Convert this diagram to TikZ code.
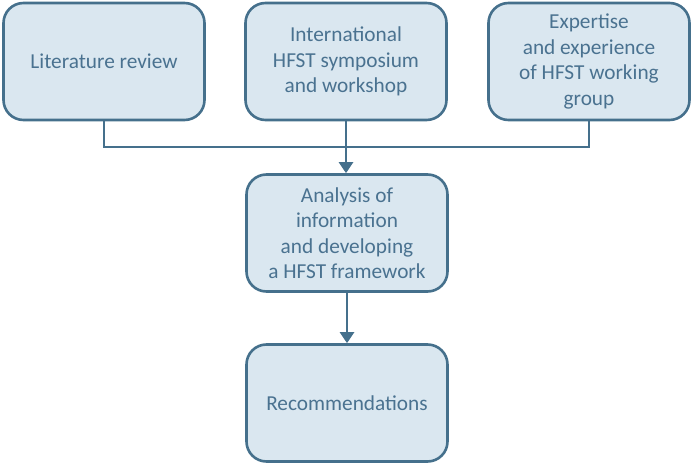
\documentclass[tikz,border=0pt]{standalone}
\usepackage{fontspec}
\setmainfont{Carlito}
\usetikzlibrary{arrows.meta,positioning}
\definecolor{boxfill}{HTML}{DAE7F0}
\definecolor{boxline}{HTML}{45708C}
\definecolor{boxtext}{HTML}{4A7290}
\tikzset{
  stage/.style={draw=boxline, fill=boxfill, line width=2.6pt, rounded corners=20pt,
    minimum width=201pt, minimum height=117pt, align=center, text=boxtext,
    font=\fontsize{21.3}{25.5}\selectfont, inner sep=2pt},
  link/.style={draw=boxline, line width=2.6pt},
  arrowlink/.style={link, -{Triangle[length=11pt,width=14pt]}}
}
\begin{document}
\begin{tikzpicture}[x=1pt,y=-1pt]
\useasboundingbox (0,0) rectangle (694,465);
\node[stage] (lit) at (104,61.5) {Literature review};
\node[stage] (sym) at (346,61.5) {International\\HFST symposium\\and workshop};
\node[stage] (exp) at (589,61.5) {Expertise\\and experience\\of HFST working\\group};
\node[stage] (ana) at (347,233) {Analysis of\\information\\and developing\\a HFST framework};
\node[stage] (rec) at (347,403) {Recommendations};
\coordinate (j) at (346,147);
\draw[link] (lit.south) |- (j) -| (exp.south);
\draw[arrowlink] (sym.south) -- (sym.south |- ana.north);
\draw[arrowlink] (ana.south) -- (rec.north);
\end{tikzpicture}
\end{document}
